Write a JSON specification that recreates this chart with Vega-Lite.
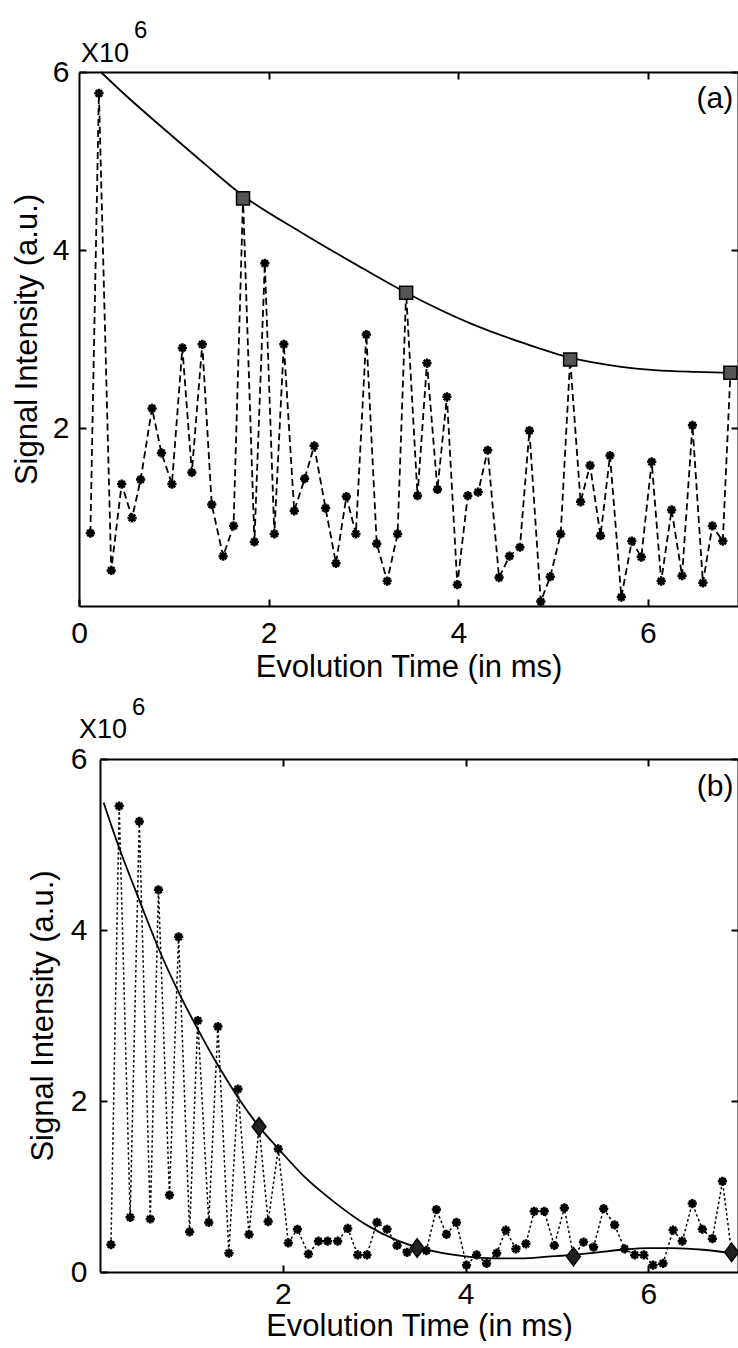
{
  "$schema": "https://vega.github.io/schema/vega-lite/v6.json",
  "background": "white",
  "padding": {"left": 11, "top": 19, "right": 0, "bottom": 0},
  "spacing": 13,
  "config": {
    "view": {"stroke": null},
    "font": "Liberation Sans",
    "axis": {
      "domainColor": "black", "domainWidth": 2, "tickColor": "black", "tickWidth": 2, "tickSize": -7,
      "labelFont": "Liberation Sans", "labelFontSize": 30, "labelColor": "black",
      "titleFont": "Liberation Sans", "titleFontSize": 31, "titleFontWeight": "normal", "titleColor": "black",
      "grid": false, "labelFlush": false, "labelOverlap": false
    }
  },
  "datasets": {
    "a_raw": [
      {"t": 0.12, "s": 0.82}, {"t": 0.21, "s": 5.76}, {"t": 0.34, "s": 0.40}, {"t": 0.45, "s": 1.37},
      {"t": 0.56, "s": 0.99}, {"t": 0.65, "s": 1.42}, {"t": 0.77, "s": 2.22}, {"t": 0.87, "s": 1.72},
      {"t": 0.98, "s": 1.37}, {"t": 1.09, "s": 2.90}, {"t": 1.19, "s": 1.50}, {"t": 1.30, "s": 2.94},
      {"t": 1.40, "s": 1.14}, {"t": 1.52, "s": 0.56}, {"t": 1.63, "s": 0.90}, {"t": 1.73, "s": 4.58},
      {"t": 1.85, "s": 0.72}, {"t": 1.96, "s": 3.85}, {"t": 2.06, "s": 0.81}, {"t": 2.16, "s": 2.94},
      {"t": 2.27, "s": 1.07}, {"t": 2.38, "s": 1.43}, {"t": 2.48, "s": 1.80}, {"t": 2.60, "s": 1.10},
      {"t": 2.71, "s": 0.48}, {"t": 2.82, "s": 1.23}, {"t": 2.92, "s": 0.81}, {"t": 3.03, "s": 3.05},
      {"t": 3.14, "s": 0.70}, {"t": 3.25, "s": 0.28}, {"t": 3.36, "s": 0.81}, {"t": 3.45, "s": 3.52},
      {"t": 3.57, "s": 1.24}, {"t": 3.67, "s": 2.73}, {"t": 3.78, "s": 1.31}, {"t": 3.88, "s": 2.35},
      {"t": 3.99, "s": 0.24}, {"t": 4.10, "s": 1.24}, {"t": 4.21, "s": 1.28}, {"t": 4.31, "s": 1.75},
      {"t": 4.43, "s": 0.32}, {"t": 4.54, "s": 0.56}, {"t": 4.65, "s": 0.66}, {"t": 4.75, "s": 1.97},
      {"t": 4.87, "s": 0.05}, {"t": 4.97, "s": 0.33}, {"t": 5.08, "s": 0.81}, {"t": 5.18, "s": 2.77},
      {"t": 5.29, "s": 1.17}, {"t": 5.39, "s": 1.58}, {"t": 5.50, "s": 0.79}, {"t": 5.60, "s": 1.69},
      {"t": 5.72, "s": 0.10}, {"t": 5.83, "s": 0.73}, {"t": 5.93, "s": 0.55}, {"t": 6.04, "s": 1.62},
      {"t": 6.14, "s": 0.28}, {"t": 6.25, "s": 1.08}, {"t": 6.36, "s": 0.34}, {"t": 6.47, "s": 2.03},
      {"t": 6.58, "s": 0.26}, {"t": 6.68, "s": 0.90}, {"t": 6.79, "s": 0.73}, {"t": 6.87, "s": 2.62}
    ],
    "a_sel": [
      {"t": 1.73, "s": 4.58}, {"t": 3.45, "s": 3.52}, {"t": 5.18, "s": 2.77}, {"t": 6.87, "s": 2.62}
    ],
    "a_fit": [
      {"t": 0.23, "s": 6.0}, {"t": 0.5, "s": 5.73}, {"t": 0.94, "s": 5.32}, {"t": 1.3, "s": 4.99},
      {"t": 1.73, "s": 4.61}, {"t": 2.34, "s": 4.2}, {"t": 2.9, "s": 3.85}, {"t": 3.45, "s": 3.52},
      {"t": 4.14, "s": 3.17}, {"t": 4.7, "s": 2.95}, {"t": 5.18, "s": 2.79}, {"t": 5.7, "s": 2.69},
      {"t": 6.07, "s": 2.65}, {"t": 6.5, "s": 2.63}, {"t": 6.88, "s": 2.62}
    ],
    "b_raw": [
      {"t": 0.12, "s": 0.32}, {"t": 0.21, "s": 5.45}, {"t": 0.33, "s": 0.64}, {"t": 0.43, "s": 5.27},
      {"t": 0.55, "s": 0.62}, {"t": 0.64, "s": 4.47}, {"t": 0.76, "s": 0.90}, {"t": 0.86, "s": 3.92},
      {"t": 0.98, "s": 0.47}, {"t": 1.07, "s": 2.94}, {"t": 1.19, "s": 0.58}, {"t": 1.29, "s": 2.87},
      {"t": 1.41, "s": 0.22}, {"t": 1.51, "s": 2.14}, {"t": 1.63, "s": 0.44}, {"t": 1.74, "s": 1.70},
      {"t": 1.84, "s": 0.59}, {"t": 1.95, "s": 1.44}, {"t": 2.06, "s": 0.34}, {"t": 2.16, "s": 0.50},
      {"t": 2.28, "s": 0.21}, {"t": 2.39, "s": 0.36}, {"t": 2.49, "s": 0.36}, {"t": 2.60, "s": 0.36},
      {"t": 2.71, "s": 0.51}, {"t": 2.82, "s": 0.20}, {"t": 2.92, "s": 0.20}, {"t": 3.03, "s": 0.58},
      {"t": 3.14, "s": 0.50}, {"t": 3.25, "s": 0.31}, {"t": 3.36, "s": 0.23}, {"t": 3.47, "s": 0.28},
      {"t": 3.57, "s": 0.25}, {"t": 3.68, "s": 0.73}, {"t": 3.79, "s": 0.44}, {"t": 3.90, "s": 0.58},
      {"t": 4.01, "s": 0.08}, {"t": 4.12, "s": 0.20}, {"t": 4.23, "s": 0.10}, {"t": 4.34, "s": 0.22},
      {"t": 4.44, "s": 0.49}, {"t": 4.55, "s": 0.27}, {"t": 4.66, "s": 0.33}, {"t": 4.75, "s": 0.71},
      {"t": 4.86, "s": 0.71}, {"t": 4.97, "s": 0.31}, {"t": 5.08, "s": 0.75}, {"t": 5.18, "s": 0.18},
      {"t": 5.29, "s": 0.35}, {"t": 5.40, "s": 0.29}, {"t": 5.51, "s": 0.74}, {"t": 5.63, "s": 0.55},
      {"t": 5.74, "s": 0.27}, {"t": 5.85, "s": 0.20}, {"t": 5.95, "s": 0.20}, {"t": 6.05, "s": 0.08},
      {"t": 6.16, "s": 0.10}, {"t": 6.27, "s": 0.49}, {"t": 6.37, "s": 0.36}, {"t": 6.48, "s": 0.80},
      {"t": 6.59, "s": 0.50}, {"t": 6.70, "s": 0.39}, {"t": 6.81, "s": 1.06}, {"t": 6.91, "s": 0.23}
    ],
    "b_sel": [
      {"t": 1.74, "s": 1.70}, {"t": 3.47, "s": 0.28}, {"t": 5.18, "s": 0.18}, {"t": 6.91, "s": 0.23}
    ],
    "b_fit": [
      {"t": 0.04, "s": 5.49}, {"t": 0.18, "s": 5.05}, {"t": 0.43, "s": 4.35}, {"t": 0.65, "s": 3.76},
      {"t": 0.87, "s": 3.25}, {"t": 1.09, "s": 2.8}, {"t": 1.3, "s": 2.4}, {"t": 1.53, "s": 2.01},
      {"t": 1.74, "s": 1.7}, {"t": 1.97, "s": 1.42}, {"t": 2.25, "s": 1.1}, {"t": 2.56, "s": 0.82},
      {"t": 2.9, "s": 0.56}, {"t": 3.25, "s": 0.37}, {"t": 3.47, "s": 0.29}, {"t": 3.75, "s": 0.22},
      {"t": 4.02, "s": 0.18}, {"t": 4.3, "s": 0.16}, {"t": 4.61, "s": 0.16}, {"t": 4.9, "s": 0.18},
      {"t": 5.18, "s": 0.2}, {"t": 5.45, "s": 0.23}, {"t": 5.71, "s": 0.26}, {"t": 6.0, "s": 0.28},
      {"t": 6.26, "s": 0.28}, {"t": 6.6, "s": 0.26}, {"t": 6.91, "s": 0.22}
    ],
    "labels": [
      {"panel": "a", "kind": "tag", "t": 6.9, "s": 5.7, "label": "(a)"},
      {"panel": "a", "kind": "base", "t": 0.02, "s": 6.11, "label": "X10"},
      {"panel": "a", "kind": "exp", "t": 0.58, "s": 6.38, "label": "6"},
      {"panel": "b", "kind": "tag", "t": 6.93, "s": 5.67, "label": "(b)"},
      {"panel": "b", "kind": "base", "t": -0.23, "s": 6.24, "label": "X10"},
      {"panel": "b", "kind": "exp", "t": 0.35, "s": 6.52, "label": "6"}
    ]
  },
  "vconcat": [
    {
      "width": 659,
      "height": 534,
      "resolve": {"axis": {"x": "independent", "y": "independent"}},
      "layer": [
        {
          "data": {"name": "a_raw"},
          "mark": {"type": "line", "color": "black", "strokeWidth": 1.8, "strokeDash": [7, 4]},
          "encoding": {
            "x": {"field": "t", "type": "quantitative", "scale": {"domain": [0, 6.95], "nice": false, "zero": false},
                  "axis": {"values": [0, 2, 4, 6], "title": "Evolution Time (in ms)", "labelPadding": 19, "titlePadding": 4}},
            "y": {"field": "s", "type": "quantitative", "scale": {"domain": [0, 6], "nice": false},
                  "axis": {"values": [2, 4, 6], "title": "Signal Intensity (a.u.)", "labelPadding": 17, "titlePadding": 9}}
          }
        },
        {
          "data": {"name": "a_fit"},
          "mark": {"type": "line", "color": "black", "strokeWidth": 1.8, "interpolate": "monotone"},
          "encoding": {
            "x": {"field": "t", "type": "quantitative", "scale": {"domain": [0, 6.95], "nice": false, "zero": false},
                  "axis": {"orient": "top", "values": [2, 4, 6], "labels": false, "title": null}},
            "y": {"field": "s", "type": "quantitative", "scale": {"domain": [0, 6], "nice": false},
                  "axis": {"orient": "right", "values": [2, 4, 6], "labels": false, "title": null}}
          }
        },
        {
          "data": {"name": "a_raw"},
          "mark": {"type": "point", "shape": "M-1,0L1,0M0,-1L0,1M-0.7,-0.7L0.7,0.7M-0.7,0.7L0.7,-0.7", "size": 85, "strokeWidth": 2.5, "color": "black", "filled": false, "opacity": 1},
          "encoding": {
            "x": {"field": "t", "type": "quantitative", "axis": null},
            "y": {"field": "s", "type": "quantitative", "axis": null}
          }
        },
        {
          "data": {"name": "a_sel"},
          "mark": {"type": "point", "shape": "square", "size": 170, "filled": true, "fill": "#555555", "stroke": "black", "strokeWidth": 1.5, "opacity": 1},
          "encoding": {
            "x": {"field": "t", "type": "quantitative", "axis": null},
            "y": {"field": "s", "type": "quantitative", "axis": null}
          }
        },
        {
          "data": {"name": "labels"},
          "transform": [{"filter": "datum.panel == 'a' && datum.kind == 'tag'"}],
          "mark": {"type": "text", "align": "right", "baseline": "middle", "font": "Liberation Sans", "fontSize": 30, "color": "black"},
          "encoding": {
            "x": {"field": "t", "type": "quantitative", "axis": null},
            "y": {"field": "s", "type": "quantitative", "axis": null},
            "text": {"field": "label"}
          }
        },
        {
          "data": {"name": "labels"},
          "transform": [{"filter": "datum.panel == 'a' && datum.kind == 'base'"}],
          "mark": {"type": "text", "align": "left", "baseline": "alphabetic", "font": "Liberation Sans", "fontSize": 27, "color": "black"},
          "encoding": {
            "x": {"field": "t", "type": "quantitative", "axis": null},
            "y": {"field": "s", "type": "quantitative", "axis": null},
            "text": {"field": "label"}
          }
        },
        {
          "data": {"name": "labels"},
          "transform": [{"filter": "datum.panel == 'a' && datum.kind == 'exp'"}],
          "mark": {"type": "text", "align": "left", "baseline": "alphabetic", "font": "Liberation Sans", "fontSize": 24, "color": "black"},
          "encoding": {
            "x": {"field": "t", "type": "quantitative", "axis": null},
            "y": {"field": "s", "type": "quantitative", "axis": null},
            "text": {"field": "label"}
          }
        }
      ]
    },
    {
      "width": 659,
      "height": 513,
      "resolve": {"axis": {"x": "independent", "y": "independent"}},
      "layer": [
        {
          "data": {"name": "b_raw"},
          "mark": {"type": "line", "color": "black", "strokeWidth": 1.5, "strokeDash": [2.5, 2.5]},
          "encoding": {
            "x": {"field": "t", "type": "quantitative", "scale": {"domain": [0, 6.98], "range": [21, 659], "nice": false, "zero": false},
                  "axis": {"values": [2, 4, 6], "title": "Evolution Time (in ms)", "labelPadding": 14, "titlePadding": 2}},
            "y": {"field": "s", "type": "quantitative", "scale": {"domain": [0, 6], "nice": false},
                  "axis": {"values": [0, 2, 4, 6], "title": "Signal Intensity (a.u.)", "offset": -21, "labelPadding": 20, "titlePadding": 11}}
          }
        },
        {
          "data": {"name": "b_fit"},
          "mark": {"type": "line", "color": "black", "strokeWidth": 1.8, "interpolate": "monotone"},
          "encoding": {
            "x": {"field": "t", "type": "quantitative", "scale": {"domain": [0, 6.98], "range": [21, 659], "nice": false, "zero": false},
                  "axis": {"orient": "top", "values": [2, 4, 6], "labels": false, "title": null}},
            "y": {"field": "s", "type": "quantitative", "scale": {"domain": [0, 6], "nice": false},
                  "axis": {"orient": "right", "values": [2, 4, 6], "labels": false, "title": null}}
          }
        },
        {
          "data": {"name": "b_raw"},
          "mark": {"type": "point", "shape": "M-1,0L1,0M0,-1L0,1M-0.7,-0.7L0.7,0.7M-0.7,0.7L0.7,-0.7", "size": 85, "strokeWidth": 2.5, "color": "black", "filled": false, "opacity": 1},
          "encoding": {
            "x": {"field": "t", "type": "quantitative", "axis": null},
            "y": {"field": "s", "type": "quantitative", "axis": null}
          }
        },
        {
          "data": {"name": "b_sel"},
          "mark": {"type": "point", "shape": "M0,-1L0.75,0L0,1L-0.75,0Z", "size": 340, "filled": true, "fill": "#222222", "stroke": "black", "strokeWidth": 1.5, "opacity": 1},
          "encoding": {
            "x": {"field": "t", "type": "quantitative", "axis": null},
            "y": {"field": "s", "type": "quantitative", "axis": null}
          }
        },
        {
          "data": {"name": "labels"},
          "transform": [{"filter": "datum.panel == 'b' && datum.kind == 'tag'"}],
          "mark": {"type": "text", "align": "right", "baseline": "middle", "font": "Liberation Sans", "fontSize": 30, "color": "black"},
          "encoding": {
            "x": {"field": "t", "type": "quantitative", "axis": null},
            "y": {"field": "s", "type": "quantitative", "axis": null},
            "text": {"field": "label"}
          }
        },
        {
          "data": {"name": "labels"},
          "transform": [{"filter": "datum.panel == 'b' && datum.kind == 'base'"}],
          "mark": {"type": "text", "align": "left", "baseline": "alphabetic", "font": "Liberation Sans", "fontSize": 27, "color": "black"},
          "encoding": {
            "x": {"field": "t", "type": "quantitative", "axis": null},
            "y": {"field": "s", "type": "quantitative", "axis": null},
            "text": {"field": "label"}
          }
        },
        {
          "data": {"name": "labels"},
          "transform": [{"filter": "datum.panel == 'b' && datum.kind == 'exp'"}],
          "mark": {"type": "text", "align": "left", "baseline": "alphabetic", "font": "Liberation Sans", "fontSize": 24, "color": "black"},
          "encoding": {
            "x": {"field": "t", "type": "quantitative", "axis": null},
            "y": {"field": "s", "type": "quantitative", "axis": null},
            "text": {"field": "label"}
          }
        }
      ]
    }
  ]
}
